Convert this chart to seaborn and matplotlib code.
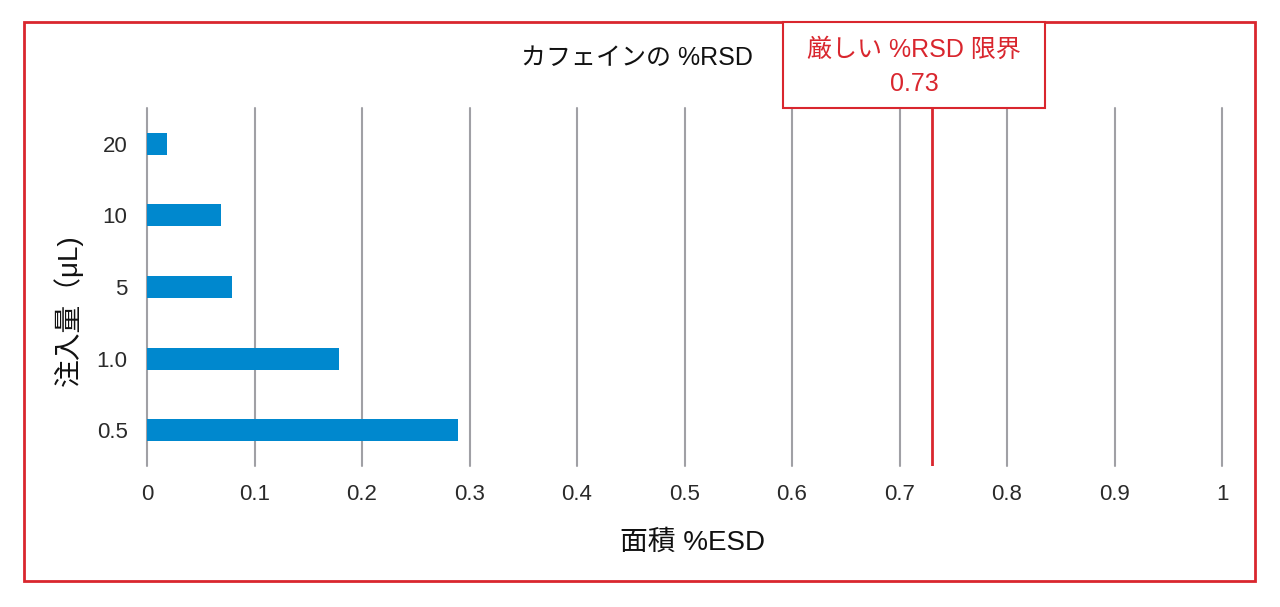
import pandas as pd
import numpy as np
import matplotlib
matplotlib.use('Agg')
import matplotlib.pyplot as plt
import matplotlib.patches as mpatches
import seaborn as sns

# data
volumes = ['20', '10', '5', '1.0', '0.5']
rsd_values = [0.019, 0.069, 0.079, 0.179, 0.289]
x_ticks = [0, 0.1, 0.2, 0.3, 0.4, 0.5, 0.6, 0.7, 0.8, 0.9, 1]
x_tick_labels = ['0', '0.1', '0.2', '0.3', '0.4', '0.5', '0.6', '0.7', '0.8', '0.9', '1']
limit_value = 0.73

bar_color = '#0088CE'
red = '#D9262E'

sns.set_style('white')
plt.rcParams['font.family'] = ['Liberation Sans', 'Noto Sans CJK JP', 'DejaVu Sans']

df = pd.DataFrame({'volume': volumes, 'rsd': rsd_values})

fig = plt.figure(figsize=(12.8, 6.07), dpi=100)
ax = fig.add_axes([147 / 1280, 1 - 466 / 607, (1222 - 147) / 1280, (466 - 108) / 607])

# vertical grid lines
for t in x_ticks:
    ax.axvline(t, color='#A0A0A5', lw=1.5, zorder=0, clip_on=False)

sns.barplot(data=df, x='rsd', y='volume', order=volumes, color=bar_color,
            saturation=1, width=0.31, linewidth=0, ax=ax, zorder=2)

ax.axvline(limit_value, color=red, lw=2, zorder=3)

ax.set_xlim(0, 1)
ax.set_ylim(4.5, -0.5)
ax.set_xticks(x_ticks)
ax.set_xticklabels(x_tick_labels)
ax.tick_params(axis='both', length=0, labelsize=16, colors='#2a2a2a')
ax.tick_params(axis='x', pad=13)
ax.tick_params(axis='y', pad=14)
for s in ax.spines.values():
    s.set_visible(False)
ax.set_xlabel('')
ax.set_ylabel('')

# labels and title
fig.text(692 / 1280, 1 - 543 / 607, '面積 %ESD', ha='center', va='center', fontsize=20, color='#111111')
fig.text(68 / 1280, 1 - 310 / 607, '注入量（μL)', ha='center', va='center', rotation=90,
         fontsize=20, color='#111111')
fig.text(637 / 1280, 1 - 58 / 607, 'カフェインの %RSD', ha='center', va='center', fontsize=18, color='#111111')

# outer border
fig.patches.append(mpatches.Rectangle((24 / 1280, 1 - 581 / 607), (1255 - 24) / 1280, (581 - 22) / 607,
                                      transform=fig.transFigure, fill=False, edgecolor=red, lw=2))

# limit callout box
fig.patches.append(mpatches.Rectangle((783 / 1280, 1 - 108 / 607), (1045 - 783) / 1280, (108 - 22) / 607,
                                      transform=fig.transFigure, facecolor='white', edgecolor=red,
                                      lw=1.5, zorder=5))
fig.text(914 / 1280, 1 - 50 / 607, '厳しい %RSD 限界', ha='center', va='center', fontsize=18,
         color=red, zorder=6)
fig.text(914 / 1280, 1 - 84 / 607, f'{limit_value:.2f}', ha='center', va='center', fontsize=18,
         color=red, zorder=6)

fig.savefig('out.png', dpi=100)
